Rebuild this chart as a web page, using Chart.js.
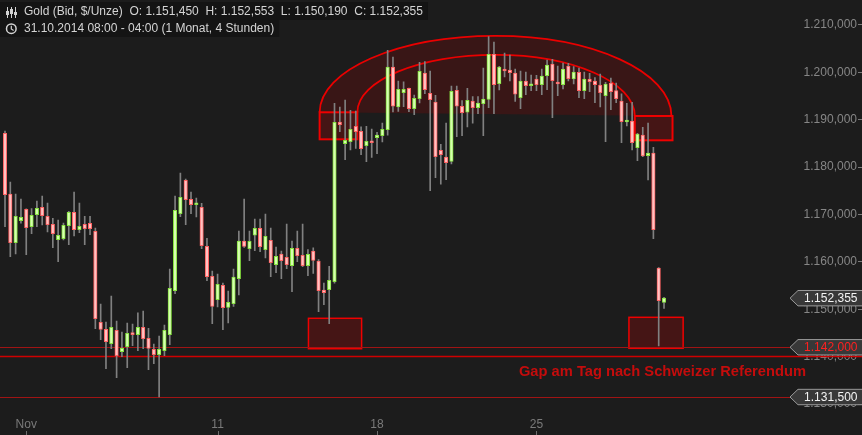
<!DOCTYPE html>
<html>
<head>
<meta charset="utf-8">
<script src="https://cdn.jsdelivr.net/npm/chart.js@4.4.1/dist/chart.umd.min.js"></script>
<style>
  html, body { margin: 0; padding: 0; background: #1c1c1c; }
  #wrap { width: 862px; height: 435px; position: relative; }
</style>
</head>
<body>
<div id="wrap"><canvas id="chart"></canvas></div>
<script>
// 4h candles, Gold (Bid, $/Unze), 31.10.2014 - 01.12.2014
const opens = [
  1187.15, 1174.34, 1164.06, 1168.71, 1171.11, 1167.44, 1169.97, 1171.53, 1169.63, 1167.94,
  1164.70, 1164.91, 1167.65, 1170.48, 1166.81, 1167.94, 1168.16, 1166.47, 1147.27, 1145.79,
  1142.75, 1145.58, 1141.07, 1142.12, 1145.01, 1144.65, 1146.21, 1143.89, 1141.57, 1140.43,
  1141.27, 1144.65, 1153.93, 1170.18, 1177.23, 1173.22, 1172.08, 1171.53, 1163.30, 1156.97,
  1152.03, 1155.07, 1150.43, 1151.19, 1156.47, 1164.42, 1162.80, 1165.63, 1167.10, 1162.59,
  1164.57, 1159.42, 1161.68, 1160.98, 1159.21, 1162.88, 1161.40, 1159.21, 1162.31, 1160.20,
  1154.08, 1154.15, 1155.83, 1189.53, 1184.95, 1185.37, 1188.62, 1187.56, 1184.53, 1185.46,
  1186.22, 1186.64, 1187.91, 1201.14, 1192.70, 1195.71, 1196.64, 1192.34, 1194.45, 1199.87,
  1195.59, 1193.75, 1183.56, 1182.15, 1181.24, 1196.22, 1192.85, 1191.58, 1193.96, 1192.55,
  1193.39, 1194.32, 1203.82, 1197.61, 1200.50, 1200.50, 1199.87, 1194.66, 1198.18, 1197.19,
  1198.61, 1197.40, 1199.31, 1201.77, 1197.97, 1197.40, 1201.35, 1198.61, 1200.01, 1196.14,
  1198.61, 1198.18, 1197.34, 1195.08, 1197.76, 1196.14, 1193.96, 1189.53, 1189.74, 1184.11,
  1186.79, 1182.42, 1182.99, 1158.72, 1151.45
]
const highs = [
  1187.60, 1176.87, 1174.34, 1173.28, 1171.20, 1171.24, 1172.86, 1173.92, 1172.44, 1169.21,
  1168.85, 1168.22, 1170.69, 1174.76, 1172.44, 1169.63, 1169.63, 1167.16, 1151.13, 1147.33,
  1152.82, 1147.54, 1145.22, 1147.12, 1146.91, 1149.29, 1149.65, 1146.00, 1142.69, 1144.38,
  1146.70, 1158.51, 1173.92, 1178.77, 1177.50, 1174.76, 1173.50, 1172.38, 1164.99, 1158.09,
  1157.46, 1155.56, 1153.87, 1158.51, 1166.53, 1173.28, 1166.53, 1169.06, 1169.06, 1170.12,
  1167.16, 1163.16, 1162.31, 1168.01, 1164.42, 1166.53, 1168.01, 1162.59, 1163.00, 1160.50,
  1155.56, 1159.08, 1193.48, 1192.70, 1194.17, 1192.00, 1191.85, 1188.50, 1188.60, 1188.05,
  1187.36, 1189.32, 1204.66, 1203.25, 1198.18, 1198.00, 1196.70, 1195.23, 1202.13, 1202.26,
  1200.29, 1195.17, 1184.83, 1189.32, 1197.13, 1197.13, 1194.03, 1196.64, 1194.87, 1194.87,
  1200.93, 1207.53, 1206.41, 1201.30, 1204.09, 1203.67, 1200.72, 1200.29, 1200.08, 1199.45,
  1199.39, 1200.72, 1202.62, 1202.76, 1201.35, 1201.98, 1201.92, 1201.20, 1200.93, 1200.08,
  1199.81, 1198.88, 1199.66, 1197.90, 1198.81, 1197.76, 1195.50, 1193.48, 1193.69, 1187.15,
  1188.41, 1189.32, 1184.19, 1158.80, 1152.553
]
const lows = [
  1167.44, 1161.11, 1161.68, 1168.16, 1161.53, 1165.96, 1167.44, 1167.80, 1166.32, 1163.01,
  1160.05, 1164.63, 1163.64, 1165.48, 1166.17, 1163.64, 1165.75, 1145.92, 1143.60, 1137.48,
  1141.70, 1135.58, 1140.01, 1137.69, 1142.33, 1141.27, 1141.70, 1137.26, 1138.53, 1131.50,
  1140.22, 1142.54, 1153.30, 1169.55, 1167.86, 1170.18, 1169.49, 1162.80, 1156.04, 1146.97,
  1150.49, 1145.71, 1147.12, 1150.64, 1153.03, 1163.09, 1160.26, 1162.37, 1162.16, 1160.83,
  1156.89, 1157.73, 1156.47, 1158.58, 1153.72, 1160.05, 1159.00, 1157.10, 1157.60, 1149.50,
  1150.98, 1146.97, 1155.50, 1187.48, 1181.57, 1183.62, 1183.98, 1182.63, 1181.15, 1182.08,
  1182.84, 1185.31, 1186.73, 1191.64, 1191.79, 1192.76, 1191.71, 1191.07, 1193.54, 1195.50,
  1175.03, 1177.78, 1176.39, 1177.36, 1180.67, 1186.43, 1186.64, 1188.50, 1189.26, 1191.28,
  1186.64, 1192.55, 1191.28, 1196.28, 1199.03, 1198.18, 1193.90, 1192.34, 1195.29, 1196.14,
  1196.14, 1195.29, 1196.35, 1190.44, 1195.08, 1196.49, 1198.18, 1197.55, 1194.66, 1194.45,
  1195.93, 1193.61, 1192.70, 1185.37, 1192.13, 1193.61, 1185.16, 1188.69, 1183.62, 1181.36,
  1182.20, 1177.29, 1164.91, 1142.27, 1150.19
]
const closes = [
  1174.19, 1164.06, 1169.63, 1169.42, 1167.23, 1169.85, 1171.32, 1169.76, 1167.86, 1165.96,
  1165.63, 1167.73, 1170.48, 1166.81, 1167.52, 1167.02, 1167.02, 1148.03, 1145.79, 1143.18,
  1146.21, 1140.22, 1141.78, 1144.95, 1144.65, 1146.21, 1143.81, 1141.78, 1140.43, 1141.57,
  1145.58, 1154.44, 1170.90, 1173.64, 1173.14, 1172.08, 1172.23, 1163.43, 1156.89, 1150.64,
  1155.28, 1150.35, 1151.49, 1156.83, 1164.42, 1163.30, 1164.36, 1167.10, 1163.22, 1165.41,
  1159.84, 1161.19, 1160.26, 1159.42, 1162.88, 1161.32, 1159.21, 1161.61, 1160.35, 1153.93,
  1153.51, 1156.12, 1189.47, 1188.96, 1185.67, 1187.99, 1187.48, 1183.90, 1185.46, 1185.16,
  1186.79, 1187.99, 1201.14, 1192.85, 1196.43, 1196.43, 1192.34, 1194.53, 1200.23, 1196.35,
  1194.24, 1182.21, 1182.63, 1180.95, 1196.01, 1192.85, 1191.50, 1194.11, 1192.55, 1193.54,
  1194.38, 1203.82, 1197.40, 1201.14, 1200.29, 1199.93, 1195.38, 1198.18, 1197.19, 1197.34,
  1197.40, 1199.24, 1201.56, 1198.25, 1197.55, 1200.72, 1198.67, 1200.08, 1196.14, 1198.61,
  1198.04, 1197.40, 1195.71, 1197.55, 1195.93, 1194.45, 1189.59, 1189.74, 1185.16, 1187.00,
  1182.36, 1182.99, 1166.81, 1151.83, 1152.355
]

// x axis: candle slots (incl. empty space on the right) and day labels
const slotCount = 161
const dayTickIndex = [4, 40, 70, 100]
const dayTickText = ["Nov", "11", "18", "25"]

// y axis range and marked price levels
const yMin = 1128.34
const yMax = 1215.275
const gapLevel = 1142.0
const referendumLevel = 1140.1

const upFill = "#d6ffb0", upLine = "#86e23e"
const downFill = "#ffc2c2", downLine = "#ff6262"

const fmt = v => {
  const [int, dec] = v.toFixed(3).split(".")
  return int.replace(/\B(?=(\d{3})+(?!\d))/g, ".") + "," + dec
}

const labels = Array.from({ length: slotCount }, (_, i) => String(i))
const isUp = closes.map((c, i) => c >= opens[i])

// cup/dome drawing: left end, right end, peak (index / price)
function domePath(ctx, x, y, i0, p0, i1, p1, ptop) {
  const k = 0.5523
  const xl = x.getPixelForValue(i0), yl = y.getPixelForValue(p0)
  const xr = x.getPixelForValue(i1), yr = y.getPixelForValue(p1)
  const xc = (xl + xr) / 2, yt = y.getPixelForValue(ptop)
  ctx.moveTo(xl, yl)
  ctx.bezierCurveTo(xl, yl - k * (yl - yt), xc - k * (xc - xl), yt, xc, yt)
  ctx.bezierCurveTo(xc + k * (xr - xc), yt, xr, yr - k * (yr - yt), xr, yr)
}

function boxAt(ctx, x, y, i0, i1, pTop, pBot, fill, stroke, lw) {
  const l = x.getPixelForValue(i0), r = x.getPixelForValue(i1)
  const t = y.getPixelForValue(pTop), b = y.getPixelForValue(pBot)
  ctx.fillStyle = fill
  ctx.fillRect(l, t, r - l, b - t)
  ctx.strokeStyle = stroke
  ctx.lineWidth = lw
  ctx.strokeRect(l, t, r - l, b - t)
}

function priceTag(ctx, yPix, text, color) {
  const left = 790, boxLeft = 798, right = 863, h = 7.7
  ctx.beginPath()
  ctx.moveTo(left, yPix)
  ctx.lineTo(boxLeft, yPix - h)
  ctx.lineTo(right, yPix - h)
  ctx.lineTo(right, yPix + h)
  ctx.lineTo(boxLeft, yPix + h)
  ctx.closePath()
  ctx.fillStyle = "#383838"
  ctx.fill()
  ctx.strokeStyle = "#9a9a9a"
  ctx.lineWidth = 1
  ctx.stroke()
  ctx.font = "12px 'Liberation Sans'"
  ctx.textAlign = "right"
  ctx.textBaseline = "middle"
  ctx.fillStyle = color
  ctx.fillText(text, 857.5, yPix + 0.5)
}

const overlay = {
  id: "overlay",
  beforeDatasetsDraw(chart) {
    const { ctx, scales: { x, y } } = chart
    ctx.save()

    // dome over the top
    ctx.beginPath()
    domePath(ctx, x, y, 59.2, 1191.58, 125.4, 1190.80, 1207.7)
    ctx.closePath()
    ctx.fillStyle = "rgba(165, 0, 0, 0.21)"
    ctx.fill()
    ctx.strokeStyle = "#ea0000"
    ctx.lineWidth = 1.8
    ctx.beginPath()
    domePath(ctx, x, y, 59.2, 1191.58, 125.4, 1190.80, 1207.7)
    ctx.stroke()
    ctx.beginPath()
    domePath(ctx, x, y, 66.3, 1191.58, 118.5, 1190.80, 1203.7)
    ctx.stroke()

    // shoulders and gap boxes
    boxAt(ctx, x, y, 59.2, 66.3, 1191.58, 1185.88, "rgba(190, 0, 0, 0.25)", "#f00000", 2)
    boxAt(ctx, x, y, 118.5, 125.6, 1190.80, 1185.67, "rgba(190, 0, 0, 0.25)", "#f00000", 2)
    boxAt(ctx, x, y, 57.1, 67.1, 1148.11, 1141.69, "rgba(190, 0, 0, 0.25)", "#f00000", 1.5)
    boxAt(ctx, x, y, 117.4, 127.6, 1148.32, 1141.78, "rgba(190, 0, 0, 0.25)", "#f00000", 1.5)

    // horizontal levels
    const hline = (p, color, lw) => {
      const yy = Math.round(y.getPixelForValue(p)) + 0.5
      ctx.strokeStyle = color
      ctx.lineWidth = lw
      ctx.beginPath()
      ctx.moveTo(0, yy)
      ctx.lineTo(862, yy)
      ctx.stroke()
    }
    hline(gapLevel, "#a01414", 1)
    hline(Math.min(...lows), "#a01414", 1)
    hline(referendumLevel, "#d00000", 1.6)
    ctx.restore()
  },
  afterDraw(chart) {
    const { ctx, scales: { x, y } } = chart
    ctx.save()

    // note text
    ctx.font = "bold 14.7px 'Liberation Sans'"
    ctx.textAlign = "left"
    ctx.textBaseline = "middle"
    ctx.fillStyle = "#c40c0c"
    ctx.fillText("Gap am Tag nach Schweizer Referendum", x.getPixelForValue(96.7), y.getPixelForValue(1136.7))

    // price tags on the right
    const last = closes.length - 1
    priceTag(ctx, y.getPixelForValue(closes[last]), fmt(closes[last]), "#f4f4f4")
    priceTag(ctx, y.getPixelForValue(gapLevel), fmt(gapLevel), "#ff2020")
    priceTag(ctx, y.getPixelForValue(Math.min(...lows)), fmt(Math.min(...lows)), "#f4f4f4")

    // day tick marks at the bottom edge
    ctx.strokeStyle = "#6e6e6e"
    ctx.lineWidth = 1
    dayTickIndex.forEach(i => {
      const xx = Math.round(x.getPixelForValue(i)) + 0.5
      ctx.beginPath()
      ctx.moveTo(xx, 431)
      ctx.lineTo(xx, 435)
      ctx.stroke()
    })

    // header
    const line1 = "Gold (Bid, $/Unze)  O: " + fmt(opens[last]) + "  H: " + fmt(highs[last]) +
      "  L: " + fmt(lows[last]) + "  C: " + fmt(closes[last])
    const line2 = "31.10.2014 08:00 - 04:00 (1 Monat, 4 Stunden)"
    ctx.font = "12px 'Liberation Sans'"
    ctx.fillStyle = "#141414"
    ctx.fillRect(0, 2, 24 + ctx.measureText(line1).width + 5, 18)
    ctx.fillRect(0, 20, 24 + ctx.measureText(line2).width + 5, 17)
    ctx.fillStyle = "#d4d4d4"
    ctx.textAlign = "left"
    ctx.textBaseline = "middle"
    ctx.fillText(line1, 24, 12)
    ctx.fillText(line2, 24, 29)

    // candle icon
    ctx.strokeStyle = "#d4d4d4"
    ctx.fillStyle = "#d4d4d4"
    ctx.lineWidth = 1
    ;[[7.5, 11, 4], [11.5, 9, 5], [15.5, 12, 3]].forEach(([cx, top, h]) => {
      ctx.beginPath()
      ctx.moveTo(cx, 7)
      ctx.lineTo(cx, 18)
      ctx.stroke()
      ctx.fillRect(cx - 1.5, top, 3, h)
    })
    // clock icon
    ctx.lineWidth = 1.5
    ctx.beginPath()
    ctx.arc(11.3, 28.7, 4.8, 0, Math.PI * 2)
    ctx.stroke()
    ctx.lineWidth = 1.2
    ctx.beginPath()
    ctx.moveTo(11.3, 25.8)
    ctx.lineTo(11.3, 28.9)
    ctx.lineTo(13.6, 30.4)
    ctx.stroke()
    ctx.restore()
  }
}

new Chart(document.getElementById("chart"), {
  type: "bar",
  data: {
    labels: labels,
    datasets: [
      {
        label: "Body",
        data: opens.map((o, i) => [o, closes[i]]),
        backgroundColor: isUp.map(u => (u ? upFill : downFill)),
        borderColor: isUp.map(u => (u ? upLine : downLine)),
        borderWidth: 1,
        borderSkipped: false,
        barThickness: 3.5,
        minBarLength: 2,
        grouped: false
      },
      {
        label: "Wick",
        data: lows.map((l, i) => [l, highs[i]]),
        backgroundColor: "#808080",
        borderWidth: 0,
        barThickness: 1,
        grouped: false
      }
    ]
  },
  options: {
    responsive: true,
    maintainAspectRatio: false,
    animation: false,
    layout: { padding: 0 },
    plugins: {
      legend: { display: false },
      tooltip: { enabled: false }
    },
    scales: {
      x: {
        type: "category",
        offset: true,
        grid: { display: false, drawTicks: false },
        border: { display: false },
        ticks: {
          autoSkip: false,
          maxRotation: 0,
          padding: 5,
          color: "#7a7a7a",
          font: { family: "Liberation Sans", size: 12 },
          callback: (v, i) => {
            const k = dayTickIndex.indexOf(i)
            return k >= 0 ? dayTickText[k] : ""
          }
        },
        afterFit: s => { s.height = 23 }
      },
      y: {
        position: "right",
        min: yMin,
        max: yMax,
        grid: { drawOnChartArea: false, color: "#7a7a7a", tickLength: 4 },
        border: { display: false },
        ticks: {
          mirror: true,
          stepSize: 10,
          includeBounds: false,
          padding: -1,
          color: "#868686",
          font: { family: "Liberation Sans", size: 12 },
          callback: v => fmt(v)
        },
        afterFit: s => {
          s.width = 4
          s.paddingTop = 0
          s.paddingBottom = 0
        }
      }
    }
  },
  plugins: [overlay]
})
</script>
</body>
</html>
